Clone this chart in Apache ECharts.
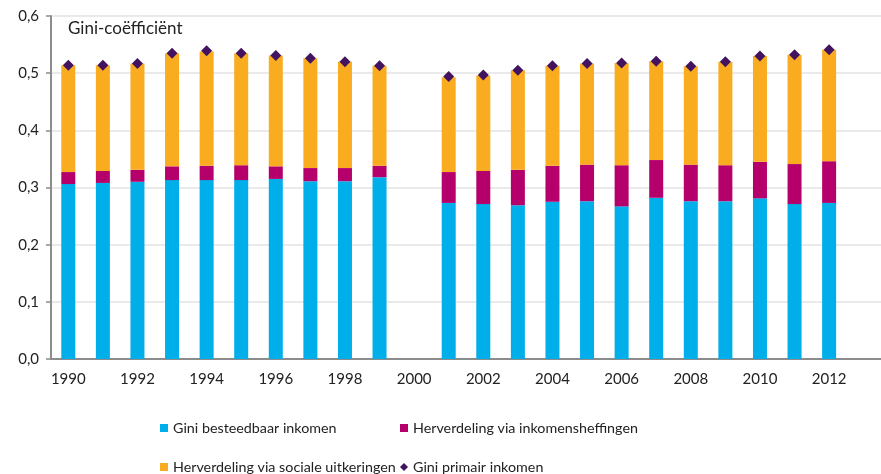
<!DOCTYPE html>
<html>
<head>
<meta charset="utf-8">
<script src="https://cdn.jsdelivr.net/npm/echarts@6/dist/echarts.min.js"></script>
<style>
  html, body { margin: 0; padding: 0; background: #fff; }
  #chart { width: 881px; height: 474px; }
</style>
</head>
<body>
<div id="chart"></div>
<script>
// jaren (2013 alleen als lege plek rechts, 2000 ontbreekt)
const years = ['1990', '1991', '1992', '1993', '1994', '1995', '1996', '1997', '1998', '1999', '2000',
  '2001', '2002', '2003', '2004', '2005', '2006', '2007', '2008', '2009', '2010', '2011', '2012', '2013']

const besteedbaar = [0.306, 0.308, 0.310, 0.313, 0.313, 0.313, 0.315, 0.311, 0.311, 0.318, null,
  0.273, 0.271, 0.269, 0.275, 0.276, 0.267, 0.282, 0.276, 0.276, 0.281, 0.271, 0.273, null]
const heffingen = [0.021, 0.021, 0.021, 0.024, 0.025, 0.026, 0.022, 0.023, 0.023, 0.020, null,
  0.054, 0.058, 0.062, 0.063, 0.064, 0.072, 0.066, 0.064, 0.063, 0.064, 0.070, 0.073, null]
const uitkeringen = [0.187, 0.185, 0.186, 0.198, 0.200, 0.196, 0.194, 0.192, 0.186, 0.175, null,
  0.166, 0.167, 0.174, 0.175, 0.177, 0.179, 0.173, 0.172, 0.181, 0.185, 0.191, 0.195, null]
const primair = [0.514, 0.514, 0.517, 0.535, 0.539, 0.535, 0.531, 0.526, 0.520, 0.513, null,
  0.494, 0.497, 0.505, 0.513, 0.517, 0.518, 0.521, 0.512, 0.520, 0.530, 0.532, 0.541, null]

const yTicks = ['0,0', '0,1', '0,2', '0,3', '0,4', '0,5', '0,6']

const font = 'Lato'
const txt = { fontFamily: font, fontSize: 14.3, color: '#222' }

const chart = echarts.init(document.getElementById('chart'))

const legendAt = (name, left, top, icon, size) => ({
  left: left,
  top: top,
  data: [name],
  icon: icon,
  itemWidth: size,
  itemHeight: size,
  itemGap: 0,
  padding: 0,
  textStyle: txt,
  selectedMode: false
})

let option = {
  animation: false,
  title: {
    text: 'Gini-coëfficiënt',
    left: 68,
    top: 20,
    padding: 0,
    textStyle: { fontFamily: font, fontSize: 17, fontWeight: 'normal', color: '#222' }
  },
  legend: [
    legendAt('Gini besteedbaar inkomen', 160, 421, 'rect', 8),
    legendAt('Herverdeling via inkomensheffingen', 400, 421, 'rect', 8),
    legendAt('Herverdeling via sociale uitkeringen', 160, 460, 'rect', 8),
    legendAt('Gini primair inkomen', 400, 460, 'diamond', 8)
  ],
  grid: {
    left: 51,
    right: -8,
    top: 16,
    bottom: 115,
    containLabel: false
  },
  xAxis: {
    type: 'category',
    data: years,
    axisTick: { show: false },
    axisLine: { lineStyle: { color: '#8c8c8c', width: 2 } },
    axisLabel: { interval: 1, margin: 13, fontFamily: font, fontSize: 15, color: '#222' }
  },
  yAxis: {
    type: 'value',
    min: 0,
    max: 0.6,
    interval: 0.1,
    axisLine: { show: true, lineStyle: { color: '#8c8c8c', width: 2 } },
    axisTick: { show: true, length: 5, lineStyle: { color: '#8c8c8c', width: 1.5 } },
    axisLabel: {
      margin: 12,
      fontFamily: font,
      fontSize: 15,
      color: '#222',
      formatter: (v) => yTicks[Math.round(v * 10)]
    },
    splitLine: { lineStyle: { color: '#e3e3e3', width: 1.5 } }
  },
  series: [
    {
      name: 'Gini besteedbaar inkomen',
      type: 'bar',
      stack: 'gini',
      barWidth: 14,
      data: besteedbaar,
      itemStyle: { color: '#00aeea' }
    },
    {
      name: 'Herverdeling via inkomensheffingen',
      type: 'bar',
      stack: 'gini',
      barWidth: 14,
      data: heffingen,
      itemStyle: { color: '#b5006b' }
    },
    {
      name: 'Herverdeling via sociale uitkeringen',
      type: 'bar',
      stack: 'gini',
      barWidth: 14,
      data: uitkeringen,
      itemStyle: { color: '#f9ac1f' }
    },
    {
      name: 'Gini primair inkomen',
      type: 'scatter',
      symbol: 'diamond',
      symbolSize: 11,
      z: 5,
      data: primair,
      itemStyle: { color: '#42145f', opacity: 1 }
    }
  ]
}

chart.setOption(option)
</script>
</body>
</html>
